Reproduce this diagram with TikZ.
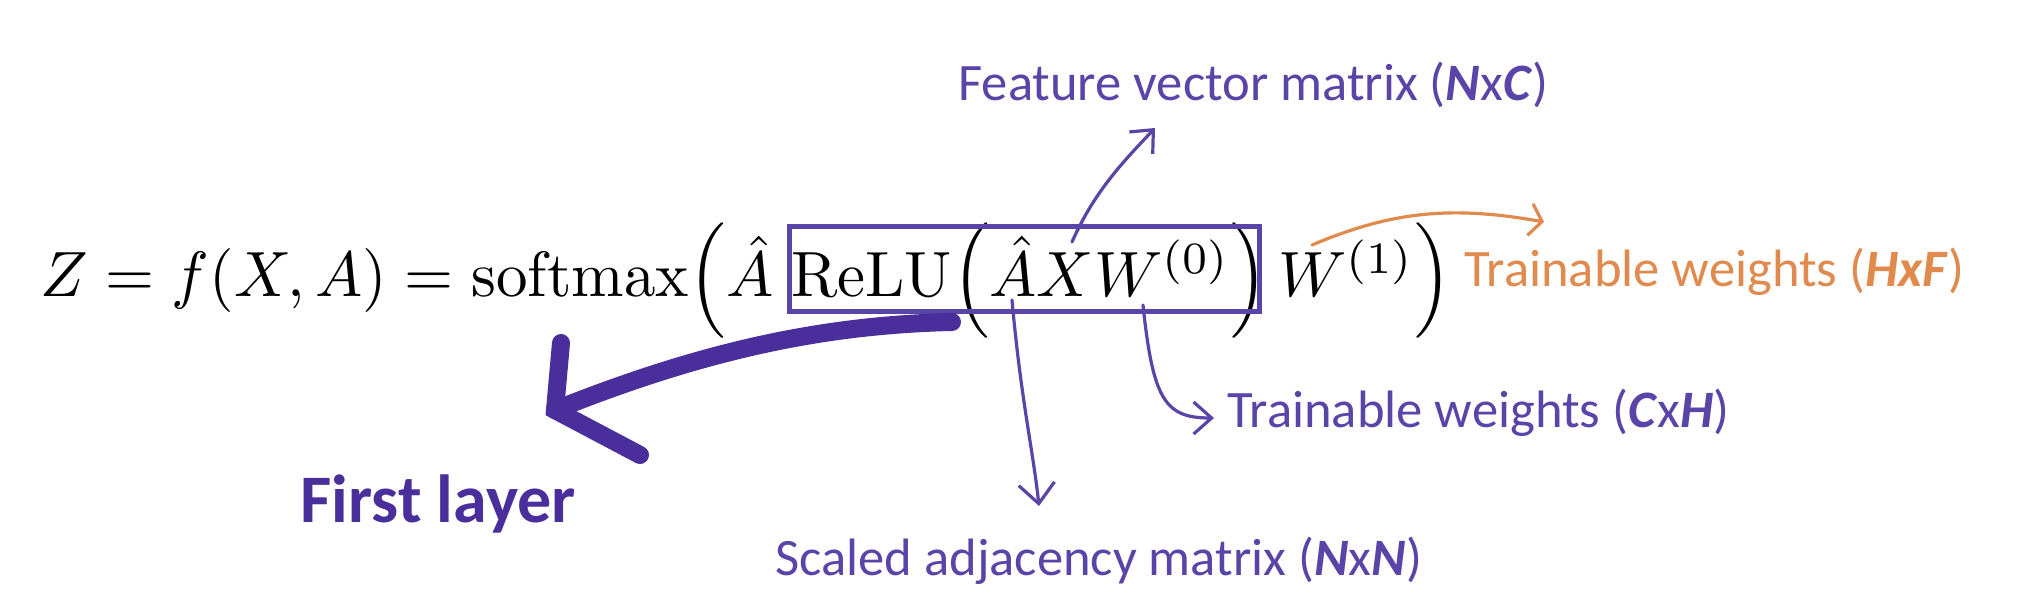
\documentclass[tikz,border=0pt]{standalone}
\usepackage{amsmath}
\usepackage{fontspec}
\setsansfont{Carlito}
\usetikzlibrary{arrows.meta}
\definecolor{pur}{HTML}{5A44A8}
\definecolor{dpur}{HTML}{4A2E9B}
\definecolor{org}{HTML}{E08A4E}
\tikzset{
  lbl/.style={anchor=base west, inner sep=0pt, font=\sffamily\fontsize{26.3}{30}\selectfont},
  thin/.style={line width=1.6pt, line cap=round, -{Straight Barb[length=9pt,width=16pt,line width=1.6pt]}},
  fat/.style={line width=9pt, line cap=round, dpur},
}
\newcommand{\bi}[1]{\textbf{\textit{#1}}}
\begin{document}
\begin{tikzpicture}[x=0.5pt,y=-0.5pt]
\useasboundingbox[fill=white] (0,0) rectangle (2036,598);
% equation
\node[anchor=base west, inner sep=0pt] (eq) at (40,297)
  {\scalebox{3.15}[3.2]{$Z = f(X,A) = \mathrm{softmax}\Big(\hat{A}\;\mathrm{ReLU}\Big(\hat{A}XW^{(0)}\Big)\,W^{(1)}\Big)$}};
% box
\node[draw=pur, line width=2.5pt, minimum width=235pt, minimum height=42.5pt, inner sep=0pt] (relubox) at (1024,269.5) {};
% labels
\node[lbl, text=pur] (feat) at (958,101) {Feature vector matrix (\bi{N}x\bi{C})};
\node[lbl, text=org] (hxf) at (1464,287) {Trainable weights (\bi{HxF})};
\node[lbl, text=pur] (cxh) at (1227,428) {Trainable weights (\bi{C}x\bi{H})};
\node[lbl, text=pur] (adj) at (775,575) {Scaled adjacency matrix (\bi{N}x\bi{N})};
\node[anchor=base west, inner sep=0pt, text=dpur, font=\sffamily\bfseries\fontsize{34}{38}\selectfont] (first) at (300,523) {First layer};
% coordinates
\coordinate (fs) at (1072,242);
\coordinate (fe) at (1155,128);
\coordinate (os) at (1312,245);
\coordinate (oe) at (1544,222);
\coordinate (cs) at (1143,305);
\coordinate (ce) at (1214,418);
\coordinate (as) at (1012,300);
\coordinate (ae) at (1039,506);
\coordinate (ts) at (952,322);
\coordinate (tt) at (555,410);
\coordinate (tu) at (561,343);
\coordinate (tl) at (640,455);
% arrows
\draw[thin, pur] (fs) .. controls (1095,190) and (1125,160) .. (fe);
\draw[thin, org, -{Straight Barb[length=6pt,width=16pt,line width=1.6pt]}] (os) .. controls (1390,212) and (1450,205) .. (oe);
\draw[thin, pur] (cs) .. controls (1153,400) and (1165,418) .. (ce);
\draw[thin, pur, -{Straight Barb[length=10pt,width=18pt,line width=1.6pt]}] (as) .. controls (1021,400) and (1033,450) .. (ae);
\draw[fat] (ts) .. controls (820,325) and (700,352) .. (tt);
\draw[fat] (tu) -- (tt) -- (tl);
\end{tikzpicture}
\end{document}
